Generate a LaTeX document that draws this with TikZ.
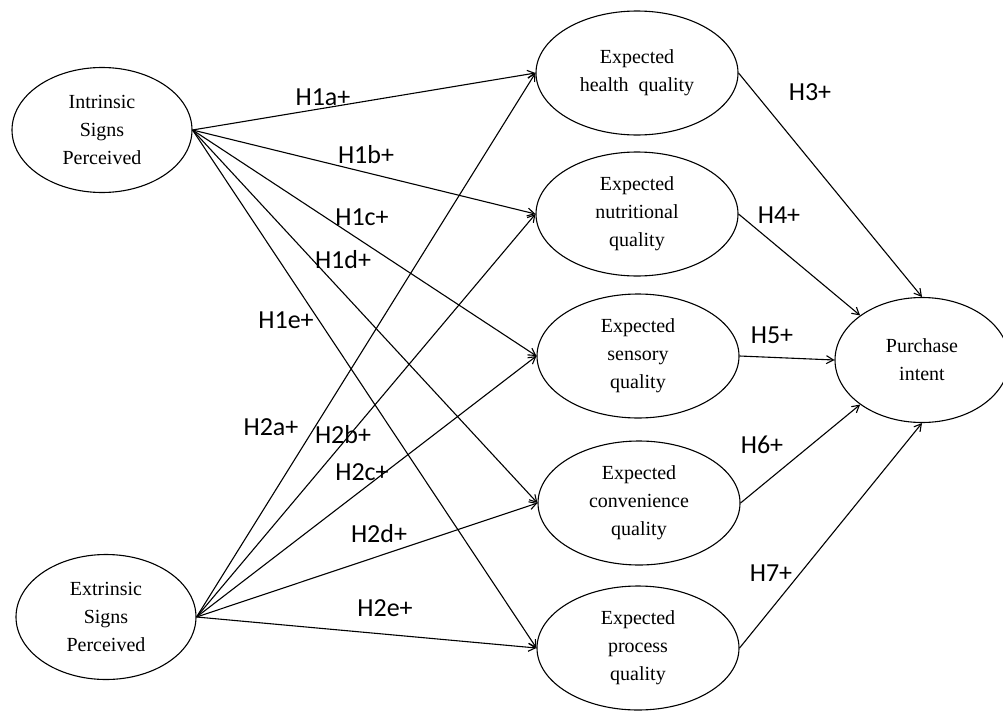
\documentclass[tikz,border=0pt]{standalone}
\usepackage{fontspec}
\setmainfont{Liberation Serif}
\newfontfamily\hypfont{Carlito}
\usetikzlibrary{arrows.meta,shapes.geometric}

\begin{document}
\begin{tikzpicture}[x=1pt,y=-1pt,->,>={Straight Barb[length=7pt,width=8pt]},
                    line width=1.1pt,
                    construct/.style={ellipse,draw,inner sep=0pt,minimum width=180pt,
                      minimum height=125pt,align=center,font=\fontsize{20}{28}\selectfont},
                    quality/.style={construct,minimum width=202pt,minimum height=124pt},
                    hyp/.style={font=\hypfont\fontsize{26}{30}\selectfont}]
  \useasboundingbox (0,0) rectangle (1003,712);

  \node[construct] (IS) at (102,130) {Intrinsic\\Signs\\Perceived};
  \node[construct] (ES) at (106,617) {Extrinsic\\Signs\\Perceived};

  \node[quality]   (HQ) at (637,73)  {Expected\\health\ \ quality};
  \node[quality]   (NQ) at (637,214) {Expected\\nutritional\\quality};
  \node[quality]   (SQ) at (638,356) {Expected\\sensory\\quality};
  \node[quality]   (CQ) at (639,503) {Expected\\convenience\\quality};
  \node[quality]   (PQ) at (638,648) {Expected\\process\\quality};

  \node[construct,minimum width=174pt] (PI) at (922,360) {Purchase\\intent};

  \foreach \q in {HQ,NQ,SQ,CQ,PQ}
  {
    \path (IS.east) edge (\q.west);
    \path (ES.east) edge (\q.west);
  }

  \path (HQ.east) edge (PI.north);
  \path (NQ.east) edge (PI.north west);
  \path (SQ.east) edge (PI.west);
  \path (CQ.east) edge (PI.south west);
  \path (PQ.east) edge (PI.south);

  \node[hyp] (h1a) at (323,97)  {H1a+};
  \node[hyp] (h1b) at (366,155) {H1b+};
  \node[hyp] (h1c) at (362,217) {H1c+};
  \node[hyp] (h1d) at (343,260) {H1d+};
  \node[hyp] (h1e) at (286,320) {H1e+};
  \node[hyp] (h2a) at (271,427) {H2a+};
  \node[hyp] (h2b) at (343,435) {H2b+};
  \node[hyp] (h2c) at (362,472) {H2c+};
  \node[hyp] (h2d) at (379,534) {H2d+};
  \node[hyp] (h2e) at (385,608) {H2e+};
  \node[hyp] (h3)  at (810,92)  {H3+};
  \node[hyp] (h4)  at (779,215) {H4+};
  \node[hyp] (h5)  at (772,335) {H5+};
  \node[hyp] (h6)  at (762,445) {H6+};
  \node[hyp] (h7)  at (771,573) {H7+};
\end{tikzpicture}
\end{document}
